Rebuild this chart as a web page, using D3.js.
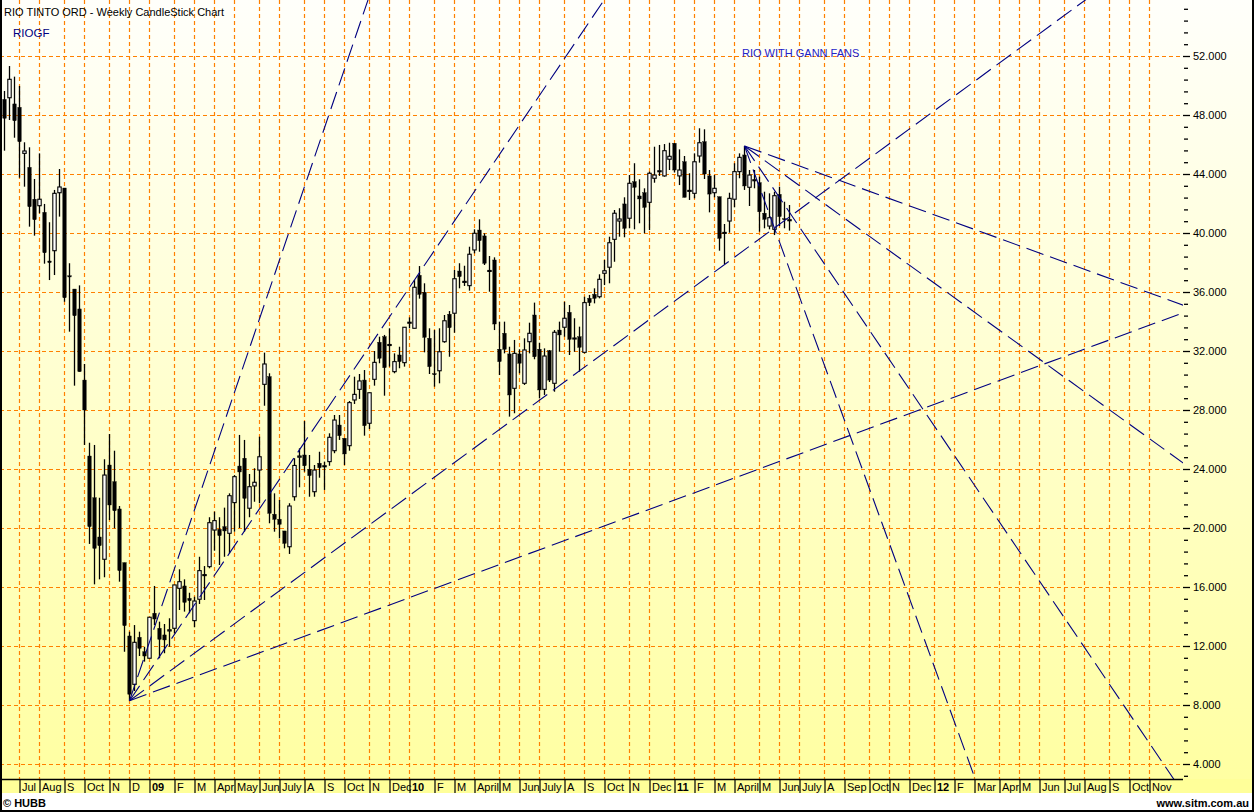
<!DOCTYPE html>
<html><head><meta charset="utf-8">
<script src="https://cdn.jsdelivr.net/npm/d3@7/dist/d3.min.js"></script>
<style>html,body{margin:0;padding:0;background:#fff;} svg{display:block;}</style>
</head><body><svg id="c" width="1254" height="812"></svg>
<script>
// ---- data (weekly OHLC) ----
const opens  = [49.06,49.17,48.75,48.52,45.40,44.45,42.29,41.85,41.40,38.10,38.80,42.73,43.05,37.10,36.20,34.85,30.03,24.88,22.05,19.39,
 17.88,24.27,23.14,21.29,17.65,12.68,9.40,12.59,11.61,11.17,14.22,13.20,12.75,13.02,13.20,15.91,16.07,15.23,13.72,15.17,
 16.78,17.38,19.86,19.91,20.09,19.64,21.72,24.20,24.73,21.34,22.85,23.93,29.74,30.26,20.93,20.59,19.80,18.73,22.12,24.80,
 24.95,23.98,22.46,24.39,24.18,24.50,25.24,26.98,26.08,25.58,28.68,29.40,30.03,27.10,30.08,32.59,32.97,32.38,30.60,31.73,
 31.21,33.90,33.54,37.13,35.98,32.86,30.46,30.66,32.63,34.49,34.56,37.42,36.68,36.43,38.85,40.20,39.80,37.42,38.17,32.12,
 33.20,31.80,29.47,31.80,29.81,32.63,34.44,32.12,29.40,32.02,29.81,33.42,33.61,34.62,32.84,32.97,31.91,35.57,35.84,35.68,
 37.27,37.68,39.57,40.81,41.97,41.00,43.48,42.51,42.73,42.08,43.71,44.18,43.87,45.00,46.08,43.87,44.83,42.85,42.69,45.22,
 46.19,43.87,42.73,42.46,40.00,40.81,42.29,44.16,45.29,43.10,43.57,43.41,41.34,40.47,40.25,42.62,40.97,40.86];
const highs  = [49.63,51.32,50.60,49.97,46.15,45.81,43.66,45.40,41.97,40.73,42.92,44.34,43.05,37.95,36.20,36.45,31.12,25.78,25.63,22.05,
 24.66,26.37,25.24,21.49,17.65,12.97,13.42,12.97,11.95,13.95,16.07,13.65,13.49,13.88,16.14,17.20,16.52,15.61,15.34,18.05,
 17.42,20.73,21.11,20.73,21.38,22.35,23.59,26.31,25.97,23.66,24.05,26.19,31.89,30.49,22.35,21.90,19.80,21.68,24.73,25.40,
 27.25,24.95,24.27,25.17,24.50,26.42,27.66,27.66,26.08,28.61,30.26,30.44,30.71,29.17,32.00,32.97,33.09,33.54,31.84,32.29,
 33.61,34.28,36.81,37.76,36.59,33.54,33.42,33.54,34.44,34.71,37.49,37.95,37.78,39.07,40.25,40.93,39.98,38.44,38.35,33.99,
 33.99,32.29,32.75,32.12,32.86,33.92,35.28,32.56,32.18,32.07,33.42,33.99,35.34,35.12,34.22,33.65,35.68,35.80,36.25,37.20,
 38.17,39.75,41.56,41.68,42.42,43.93,44.73,43.64,43.03,44.16,45.85,45.97,46.03,46.12,46.10,45.67,45.22,44.05,45.40,47.10,
 47.03,44.27,43.93,42.46,40.61,42.73,44.73,45.40,45.90,44.27,44.27,43.82,42.80,42.69,42.80,43.14,42.12,41.90];
const lows   = [45.58,47.66,46.46,43.75,43.14,40.43,39.82,41.34,37.92,36.81,37.15,41.11,35.34,33.31,29.65,30.60,25.63,18.92,16.18,16.52,
 16.66,20.54,19.98,16.36,11.61,8.29,8.95,11.32,10.94,11.17,13.42,11.17,11.51,11.95,12.86,14.44,14.33,14.22,13.27,14.85,
 15.12,17.27,18.46,17.49,18.05,18.28,19.75,20.00,19.75,20.73,21.78,21.68,28.29,20.32,19.75,19.30,18.62,18.24,21.85,22.76,
 23.82,22.12,22.12,23.41,22.58,24.22,25.07,25.97,24.27,25.24,28.41,28.75,26.26,26.71,29.65,31.17,28.97,30.94,30.49,30.83,
 30.94,33.54,33.54,35.55,31.91,30.44,29.58,29.81,32.56,31.61,33.24,36.25,36.41,36.09,38.62,38.73,37.83,36.02,33.42,30.37,
 31.84,27.55,27.78,30.49,29.70,31.84,31.44,28.79,29.02,29.90,29.24,31.95,32.97,31.73,31.95,30.60,31.84,35.05,35.23,35.57,
 36.47,36.59,38.05,39.75,39.71,40.32,40.25,40.66,39.98,40.20,43.41,43.87,43.82,44.27,44.10,43.25,42.42,42.24,42.35,44.77,
 43.66,41.40,42.42,38.80,37.90,40.02,41.74,43.71,42.92,41.83,43.03,40.09,40.32,40.25,39.86,40.47,40.32,40.16];
const closes = [47.78,50.42,47.61,46.19,45.56,41.78,40.90,42.29,38.66,37.99,42.69,43.12,35.61,37.02,34.39,30.60,28.00,20.09,18.62,18.80,
 23.59,21.56,21.17,17.11,13.38,8.73,12.25,11.84,11.32,13.95,13.83,12.45,12.41,13.10,16.14,16.36,14.96,15.07,15.05,17.11,
 16.84,20.36,20.50,19.48,19.80,22.19,23.48,23.80,22.01,22.80,23.10,24.83,31.12,21.00,20.59,20.25,18.96,21.49,24.24,24.88,
 24.22,23.55,23.93,24.09,24.22,26.15,27.32,26.26,25.02,28.50,29.06,29.97,26.94,29.17,31.23,31.51,30.87,32.44,31.28,31.28,
 33.61,33.95,36.32,35.84,32.93,30.94,30.42,31.95,34.05,33.58,36.90,37.04,36.72,38.56,39.98,39.48,37.95,37.46,33.83,31.28,
 32.12,29.02,31.84,31.17,32.07,33.20,31.61,29.36,31.66,30.03,33.27,33.09,34.22,32.79,32.88,32.25,35.28,35.28,35.57,36.86,
 37.44,39.34,41.34,40.95,40.32,43.37,43.10,42.31,41.74,44.05,43.93,44.22,45.58,45.20,44.27,44.27,42.42,42.89,44.83,46.12,
 44.00,42.64,43.03,39.64,40.04,42.35,44.16,45.13,43.19,43.93,43.61,41.44,40.93,41.04,42.53,41.11,40.93,40.90];

const priceTicks = [4,8,12,16,20,24,28,32,36,40,44,48,52];
const monthLabels = ["Jul","Aug","S","Oct","N","D","09","F","M","Apr","May","Jun","July","A","S","Oct","N","Dec","10","F","M","April","M","Jun","July","A","S","Oct","N","Dec","11","F","M","April","M","Jun","July","A","Sep","Oct","N","Dec","12","F","Mar","Apr","M","Jun","Jul","Aug","S","Oct","Nov"];
const monthWeeks  = [3,7,12,16,21,25,29,34,38,42,46,51,55,60,64,68,73,77,81,86,90,94,99,103,107,112,116,120,125,129,134,138,142,146,151,155,159,164,168,173,177,181,186,190,194,199,203,207,212,216,221,225,229];
const yearLabels = ["09","10","11","12"];

// Gann fans: origin week + slope in price per week
const lowFanWeek = 25;   // origin at this week's low
const lowFanSlopes = [0.996, 0.5005, 0.2485, 0.1248];
const highFanWeek = 148; // origin at this week's high
const highFanSlopes = [-0.93, -0.5, -0.245, -0.123];

// ---- drawing ----
const W = 1254, H = 812, plotR = 1183, plotB = 779;
const x = d3.scaleLinear().domain([0, 236]).range([4.5, 4.5 + 5 * 236]);
const y = d3.scaleLinear().domain([4, 52]).range([764, 56]);
const font = "'Liberation Sans', Arial, sans-serif";

const svg = d3.select('#c');
const defs = svg.append('defs');
const grad = defs.append('linearGradient').attr('id', 'bg').attr('x1', 0).attr('y1', 0).attr('x2', 0).attr('y2', 1);
grad.append('stop').attr('offset', '0%').attr('stop-color', '#fffffb');
grad.append('stop').attr('offset', '100%').attr('stop-color', '#ffffa0');
defs.append('clipPath').attr('id', 'clip').append('rect').attr('x', 0).attr('y', 0).attr('width', plotR).attr('height', plotB);

svg.append('rect').attr('width', W).attr('height', H).attr('fill', '#fff');
svg.append('rect').attr('width', W).attr('height', 793).attr('fill', 'url(#bg)');
svg.append('rect').attr('x', 0).attr('y', plotB).attr('width', W).attr('height', 793 - plotB).attr('fill', '#ffff99');

// grid
const grid = svg.append('g').attr('stroke', '#ff8000').attr('stroke-width', 1.2).attr('stroke-dasharray', '4,3');
grid.selectAll('line.h').data(priceTicks).join('line').attr('class', 'h')
  .attr('x1', 0).attr('x2', plotR).attr('y1', d => Math.round(y(d)) + 0.5).attr('y2', d => Math.round(y(d)) + 0.5);
grid.selectAll('line.v').data(monthWeeks).join('line').attr('class', 'v')
  .attr('x1', d => x(d)).attr('x2', d => x(d)).attr('y1', 0).attr('y2', plotB);

// candles
const plot = svg.append('g').attr('clip-path', 'url(#clip)');
const idx = d3.range(opens.length);
plot.append('g').selectAll('line').data(idx).join('line')
  .attr('x1', i => x(i)).attr('x2', i => x(i))
  .attr('y1', i => y(highs[i])).attr('y2', i => y(lows[i]))
  .attr('stroke', '#000').attr('stroke-width', 1.3);
plot.append('g').selectAll('rect').data(idx).join('rect')
  .attr('x', i => x(i) - 1.7).attr('width', 3.4)
  .attr('y', i => Math.min(y(opens[i]), y(closes[i])))
  .attr('height', i => Math.max(1, Math.abs(y(opens[i]) - y(closes[i]))))
  .attr('fill', i => closes[i] > opens[i] ? '#ffffff' : '#000')
  .attr('stroke', '#000').attr('stroke-width', i => closes[i] > opens[i] ? 1.1 : 0.4);

// Gann fans
const fanLines = [];
const lp = lows[lowFanWeek], hp = highs[highFanWeek];
lowFanSlopes.forEach(s => fanLines.push([[lowFanWeek, lp], [lowFanWeek + 240, lp + s * 240]]));
highFanSlopes.forEach(s => fanLines.push([[highFanWeek, hp], [highFanWeek + 240, hp + s * 240]]));
plot.append('g').selectAll('path').data(fanLines).join('path')
  .attr('d', d3.line().x(d => x(d[0])).y(d => y(d[1])))
  .attr('fill', 'none').attr('stroke', '#000080').attr('stroke-width', 1.1).attr('stroke-dasharray', '18,7');

// right axis
const yAxis = d3.axisRight(y).tickValues(priceTicks).tickFormat(d3.format('.3f')).tickSize(7).tickPadding(3);
const ya = svg.append('g').attr('transform', `translate(${plotR},0)`).call(yAxis);
ya.select('.domain').remove();
ya.selectAll('text').attr('font-family', font).attr('font-size', 11).attr('fill', '#000').attr('dy', '0.36em');
ya.selectAll('line').attr('stroke-width', 1.3);
const minorTicks = d3.range(3.2, 55.3, 0.8).filter(v => Math.abs(v / 4 - Math.round(v / 4)) > 0.01);
const yMinor = d3.axisRight(y).tickValues(minorTicks).tickFormat('').tickSize(4);
const ym = svg.append('g').attr('transform', `translate(${plotR + 1},0)`).call(yMinor);
ym.select('.domain').remove();
ym.selectAll('line').attr('stroke-width', 1.3);

// bottom axis
const xAxis = d3.axisBottom(x).tickValues(monthWeeks).tickFormat((d, i) => monthLabels[i]).tickSize(14).tickPadding(0);
const xa = svg.append('g').attr('transform', `translate(0,${plotB})`).call(xAxis);
xa.select('.domain').attr('d', `M0,0.5H${plotR}`).attr('stroke', '#000').attr('stroke-width', 1.5);
xa.selectAll('line').attr('stroke-width', 1.2);
xa.selectAll('text').attr('font-family', font).attr('font-size', 11).attr('fill', '#000')
  .attr('text-anchor', 'start').attr('x', 2).attr('y', 11.5).attr('dy', 0)
  .each(function (d, i) { if (yearLabels.includes(monthLabels[i])) d3.select(this).attr('font-weight', 'bold'); });

// texts
svg.append('text').attr('x', 4).attr('y', 16).attr('font-family', font).attr('font-size', 11).attr('fill', '#000')
  .text('RIO TINTO ORD - Weekly CandleStick Chart');
svg.append('text').attr('x', 13).attr('y', 37).attr('font-family', font).attr('font-size', 11.5).attr('fill', '#000080')
  .text('RIOGF');
svg.append('text').attr('x', 742).attr('y', 57).attr('font-family', font).attr('font-size', 11).attr('fill', '#2323c8')
  .text('RIO WITH GANN FANS');
svg.append('text').attr('x', 3).attr('y', 807).attr('font-family', font).attr('font-size', 11).attr('font-weight', 'bold').attr('fill', '#000')
  .text('© HUBB');
svg.append('text').attr('x', 1249).attr('y', 807).attr('text-anchor', 'end').attr('font-family', font).attr('font-size', 11).attr('font-weight', 'bold').attr('fill', '#000')
  .text('www.sitm.com.au');

// frame
svg.append('path').attr('d', `M1,0V${H - 1}H${W - 1}V0`).attr('fill', 'none').attr('stroke', '#000').attr('stroke-width', 2);
</script></body></html>
